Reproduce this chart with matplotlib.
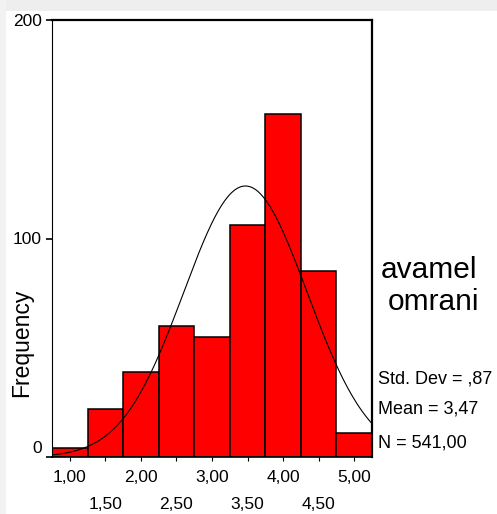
import numpy as np
import matplotlib
matplotlib.use("Agg")
import matplotlib.pyplot as plt
import matplotlib.transforms as mtransforms
from matplotlib.patches import Rectangle

plt.rcParams['font.family'] = ['Liberation Sans', 'DejaVu Sans']

# Data
bin_centers = [1.0, 1.5, 2.0, 2.5, 3.0, 3.5, 4.0, 4.5, 5.0]
counts = [4, 22, 39, 60, 55, 106, 157, 85, 11]
bin_width = 0.5
std_dev = 0.87
mean = 3.47
n_total = 541
major_ticks = [1.0, 2.0, 3.0, 4.0, 5.0]
major_labels = ['1,00', '2,00', '3,00', '4,00', '5,00']
minor_ticks = [1.5, 2.5, 3.5, 4.5]
minor_labels = ['1,50', '2,50', '3,50', '4,50']
y_ticks = [0, 100, 200]
y_labels = ['0', '100', '200']

W, H = 497, 514
fig = plt.figure(figsize=(W / 100, H / 100), dpi=100)
fig.patch.set_facecolor('white')

# screenshot-like light strips
fig.patches.append(Rectangle((0, 1 - 11 / H), 1, 11 / H, transform=fig.transFigure,
                             facecolor='#eeeeee', edgecolor='none', zorder=0))
fig.patches.append(Rectangle((0, 0), 6 / W, 1, transform=fig.transFigure,
                             facecolor='#f2f2f2', edgecolor='none', zorder=0))

ax = fig.add_axes([52 / W, 1 - 457 / H, (372 - 52) / W, (457 - 20) / H])
ax.set_facecolor('white')

ax.bar(bin_centers, counts, width=bin_width, color='#ff0000', edgecolor='black',
       linewidth=1.1, align='center', zorder=2)

xs = np.linspace(0.75, 5.25, 300)
ys = n_total * bin_width / (std_dev * np.sqrt(2 * np.pi)) * np.exp(-0.5 * ((xs - mean) / std_dev) ** 2)
ax.plot(xs, ys, color='black', lw=0.8, zorder=3)

ax.set_xlim(0.75, 5.25)
ax.set_ylim(0, 200)

ax.spines['left'].set_linewidth(0.8)
ax.spines['bottom'].set_linewidth(1.2)
ax.spines['top'].set_linewidth(1.6)
ax.spines['right'].set_linewidth(1.6)

ax.set_yticks(y_ticks)
ax.set_yticklabels(y_labels, fontsize=12.5)
ax.tick_params(axis='y', length=4.5, width=1.2, pad=3)
# SPSS puts "0" label raised above axis
lbl0 = ax.get_yticklabels()[0]
lbl0.set_transform(lbl0.get_transform() + mtransforms.ScaledTranslation(0, 10 / 100, fig.dpi_scale_trans))

ax.set_xticks(major_ticks)
ax.set_xticklabels(major_labels, fontsize=12.5)
ax.set_xticks(minor_ticks, minor=True)
ax.set_xticklabels(minor_labels, minor=True, fontsize=12.5)
ax.tick_params(axis='x', which='major', length=3, width=0.8, pad=6)
ax.tick_params(axis='x', which='minor', length=3, width=0.8, pad=26)

ax.set_ylabel('Frequency', fontsize=16.5)
ax.yaxis.set_label_coords((22 - 52) / 320, (457 - 343) / 437)
ax.yaxis.label.set_va('center')

def ftext(x, y, s, size):
    fig.text(x / W, 1 - y / H, s, fontsize=size, ha='left', va='baseline')

ftext(381, 278, 'avamel', 21.5)
ftext(388, 310, 'omrani', 21.5)
ftext(378, 383, 'Std. Dev = ,87', 13)
ftext(378, 414, 'Mean = 3,47', 13)
ftext(378, 447, 'N = 541,00', 13)

fig.savefig('out.png', dpi=100)
